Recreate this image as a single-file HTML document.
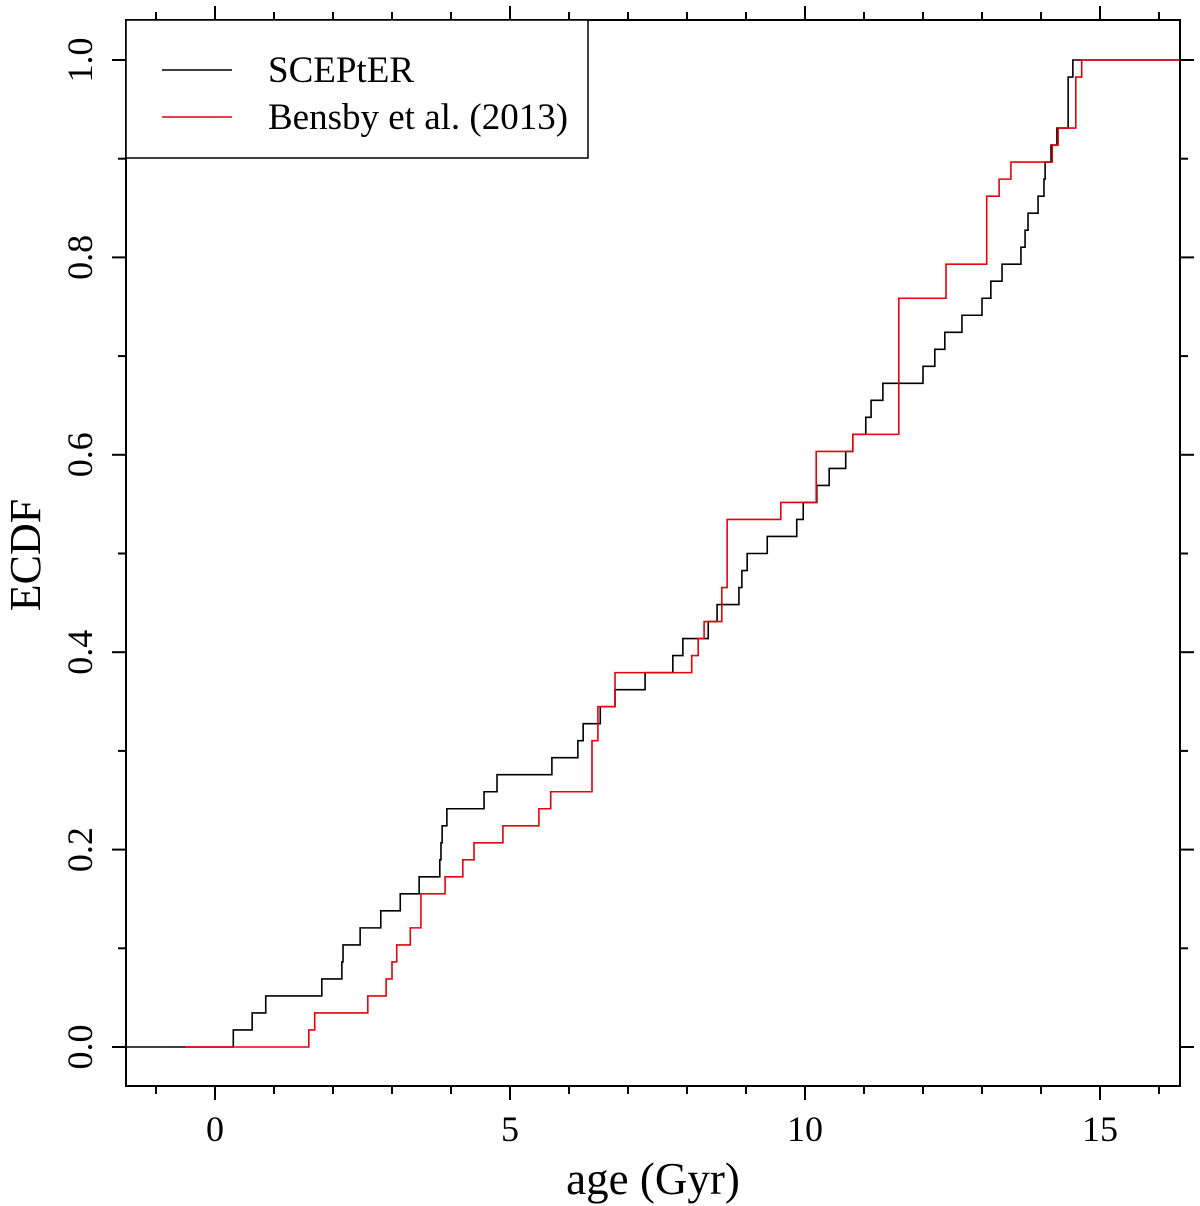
<!DOCTYPE html>
<html><head><meta charset="utf-8"><style>
body{margin:0;background:#fff;}
svg{display:block;font-family:"Liberation Serif",serif;}
</style></head><body>
<svg id="chart" width="1200" height="1206" viewBox="0 0 1200 1206"></svg>
<script>
const scepterAges=[0.31,0.63,0.86,1.81,2.15,2.17,2.46,2.81,3.14,3.46,3.81,3.83,3.85,3.93,4.56,4.78,5.71,6.15,6.24,6.53,6.78,7.29,7.76,7.93,8.36,8.51,8.88,8.93,9.02,9.36,9.86,9.97,10.20,10.41,10.69,10.81,11.03,11.12,11.32,12.00,12.20,12.37,12.66,13.00,13.15,13.34,13.66,13.73,13.78,13.95,14.05,14.07,14.17,14.27,14.46,14.46,14.46,14.54];
const bensbyAges=[1.59,1.69,2.59,2.90,3.00,3.08,3.31,3.49,3.49,3.90,4.20,4.39,4.88,5.49,5.69,6.39,6.39,6.39,6.49,6.49,6.78,6.78,8.08,8.19,8.29,8.59,8.59,8.68,8.68,8.68,8.68,9.59,10.19,10.19,10.19,10.81,11.59,11.59,11.59,11.59,11.59,11.59,11.59,11.59,12.39,12.39,13.08,13.08,13.08,13.08,13.29,13.49,14.19,14.29,14.59,14.59,14.59,14.69];
const xTickLabels=["0","5","10","15"];
const yTickLabels=["0.0","0.2","0.4","0.6","0.8","1.0"];
const seriesNames=["SCEPtER","Bensby et al. (2013)"];

const L=126,R=1180,T=20,B=1086;
const X=v=>215+v*59;
const Y=v=>1047-v*987;
const svg=document.getElementById('chart');
const NS='http://www.w3.org/2000/svg';
function mk(tag,attrs,parent){const e=document.createElementNS(NS,tag);for(const k in attrs)e.setAttribute(k,attrs[k]);(parent||svg).appendChild(e);return e;}

let f=mk('rect',{x:L,y:T,width:R-L,height:B-T,fill:'none',stroke:'#000','stroke-width':2});



const xt=mk('g',{stroke:'#000','stroke-width':2});


for(let v=-1;v<=16;v++){
  const major=v%5===0, x=X(v);
  mk('line',{x1:x,x2:x,y1:B,y2:B+(major?14:8)},xt);
  mk('line',{x1:x,x2:x,y1:T,y2:T-(major?14:8)},xt);
}
xTickLabels.forEach(s=>{
  const t=mk('text',{x:X(+s),y:1141,'text-anchor':'middle','font-size':36});
  t.textContent=s;
  
  
});
const yt=mk('g',{stroke:'#000','stroke-width':2});


for(let i=0;i<=10;i++){
  const major=i%2===0, y=Y(i/10);
  mk('line',{x1:L,x2:L-(major?14:8),y1:y,y2:y},yt);
  mk('line',{x1:R,x2:R+(major?14:8),y1:y,y2:y},yt);
}
yTickLabels.forEach(s=>{
  const y=Y(+s);
  const t=mk('text',{x:0,y:0,'text-anchor':'middle','font-size':36,transform:`translate(92,${y}) rotate(-90)`});
  t.textContent=s;
  
  
});
let xtitle=mk('text',{x:653,y:1194,'text-anchor':'middle','font-size':45});
xtitle.textContent='age (Gyr)';


let ytitle=mk('text',{x:0,y:0,'text-anchor':'middle','font-size':44,transform:'translate(40,555) rotate(-90)'});
ytitle.textContent='ECDF';



function stepPath(ages,startX){
  const n=ages.length; let d=`M${startX},${Y(0)}`;
  ages.forEach((a,i)=>{d+=` H${X(a)} V${Y((i+1)/n)}`;});
  d+=` H${R}`;
  return d;
}
let p1=mk('path',{d:stepPath(scepterAges,L),fill:'none',stroke:'#000','stroke-width':1.6});


let p2=mk('path',{d:stepPath(bensbyAges,X(-0.5)),fill:'none',stroke:'#e8000b','stroke-width':1.6});



const lg=mk('g',{});


mk('rect',{x:L,y:T,width:462,height:138,fill:'#fff',stroke:'#000','stroke-width':1.5},lg);
const cols=['#000','#e8000b'];
seriesNames.forEach((s,i)=>{
  const y=70+i*47;
  const ln=mk('line',{x1:162,x2:232,y1:y,y2:y,stroke:cols[i],'stroke-width':1.5},lg);
  
  
  const t=mk('text',{x:268,y:y+12,'font-size':37},lg);
  t.textContent=s;
  
  
});
</script>
</body></html>
